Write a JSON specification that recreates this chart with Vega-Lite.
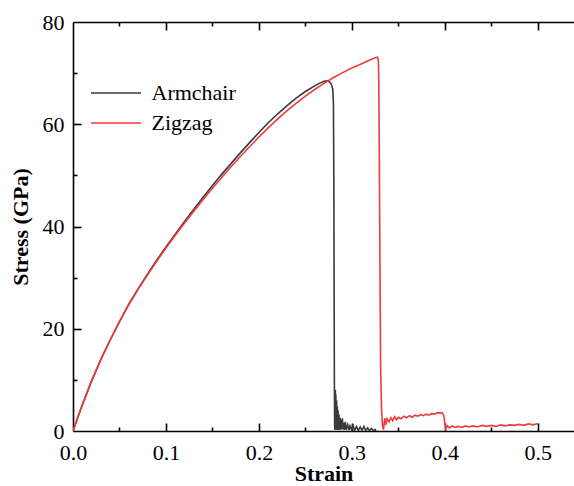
{
  "$schema": "https://vega.github.io/schema/vega-lite/v6.json",
  "width": 501,
  "height": 409,
  "autosize": {"type": "none"},
  "padding": {"left": 73, "top": 22, "right": 0, "bottom": 55},
  "config": {"font": "Liberation Serif", "view": {"stroke": null}, "axis": {"domainColor": "black", "tickColor": "black", "domainWidth": 1.6, "tickWidth": 1.6, "labelColor": "black", "titleColor": "black", "labelFont": "Liberation Serif", "titleFont": "Liberation Serif", "labelFontSize": 22, "titleFontSize": 22, "grid": false}},
  "datasets": {
    "curves": [
      {"s": "Armchair", "strain": 0, "stress": 0},
      {"s": "Armchair", "strain": 0.005, "stress": 2.6},
      {"s": "Armchair", "strain": 0.01, "stress": 5.1},
      {"s": "Armchair", "strain": 0.02, "stress": 9.8},
      {"s": "Armchair", "strain": 0.03, "stress": 14.0},
      {"s": "Armchair", "strain": 0.04, "stress": 17.8},
      {"s": "Armchair", "strain": 0.05, "stress": 21.4},
      {"s": "Armchair", "strain": 0.06, "stress": 24.8},
      {"s": "Armchair", "strain": 0.07, "stress": 27.8},
      {"s": "Armchair", "strain": 0.08, "stress": 30.6},
      {"s": "Armchair", "strain": 0.09, "stress": 33.4},
      {"s": "Armchair", "strain": 0.10, "stress": 36.0},
      {"s": "Armchair", "strain": 0.11, "stress": 38.5},
      {"s": "Armchair", "strain": 0.12, "stress": 41.0},
      {"s": "Armchair", "strain": 0.13, "stress": 43.4},
      {"s": "Armchair", "strain": 0.14, "stress": 45.7},
      {"s": "Armchair", "strain": 0.15, "stress": 48.0},
      {"s": "Armchair", "strain": 0.16, "stress": 50.2},
      {"s": "Armchair", "strain": 0.17, "stress": 52.3},
      {"s": "Armchair", "strain": 0.18, "stress": 54.4},
      {"s": "Armchair", "strain": 0.19, "stress": 56.4},
      {"s": "Armchair", "strain": 0.20, "stress": 58.4},
      {"s": "Armchair", "strain": 0.21, "stress": 60.3},
      {"s": "Armchair", "strain": 0.22, "stress": 62.0},
      {"s": "Armchair", "strain": 0.23, "stress": 63.6},
      {"s": "Armchair", "strain": 0.24, "stress": 65.1},
      {"s": "Armchair", "strain": 0.25, "stress": 66.4},
      {"s": "Armchair", "strain": 0.26, "stress": 67.5},
      {"s": "Armchair", "strain": 0.265, "stress": 68.0},
      {"s": "Armchair", "strain": 0.27, "stress": 68.4},
      {"s": "Armchair", "strain": 0.273, "stress": 68.5},
      {"s": "Armchair", "strain": 0.276, "stress": 68.3},
      {"s": "Armchair", "strain": 0.278, "stress": 67.8},
      {"s": "Armchair", "strain": 0.2795, "stress": 66.8},
      {"s": "Armchair", "strain": 0.2802, "stress": 64.0},
      {"s": "Armchair", "strain": 0.2806, "stress": 50.0},
      {"s": "Armchair", "strain": 0.2809, "stress": 30.0},
      {"s": "Armchair", "strain": 0.2812, "stress": 10.0},
      {"s": "Armchair", "strain": 0.2815, "stress": 1.0},
      {"s": "Armchair", "strain": 0.2818, "stress": 0.2},
      {"s": "Armchair", "strain": 0.2822, "stress": 8.0},
      {"s": "Armchair", "strain": 0.2825, "stress": 0.5},
      {"s": "Armchair", "strain": 0.2828, "stress": 7.2},
      {"s": "Armchair", "strain": 0.2832, "stress": 0.3},
      {"s": "Armchair", "strain": 0.2836, "stress": 6.0},
      {"s": "Armchair", "strain": 0.284, "stress": 0.2},
      {"s": "Armchair", "strain": 0.2844, "stress": 4.8},
      {"s": "Armchair", "strain": 0.2848, "stress": 0.3},
      {"s": "Armchair", "strain": 0.2852, "stress": 4.0},
      {"s": "Armchair", "strain": 0.2857, "stress": 0.2},
      {"s": "Armchair", "strain": 0.2862, "stress": 3.2},
      {"s": "Armchair", "strain": 0.2868, "stress": 0.3},
      {"s": "Armchair", "strain": 0.2874, "stress": 2.6},
      {"s": "Armchair", "strain": 0.288, "stress": 0.2},
      {"s": "Armchair", "strain": 0.2886, "stress": 2.2},
      {"s": "Armchair", "strain": 0.2892, "stress": 0.4},
      {"s": "Armchair", "strain": 0.2898, "stress": 2.5},
      {"s": "Armchair", "strain": 0.2905, "stress": 0.3},
      {"s": "Armchair", "strain": 0.2912, "stress": 1.6},
      {"s": "Armchair", "strain": 0.292, "stress": 0.2},
      {"s": "Armchair", "strain": 0.293, "stress": 1.8},
      {"s": "Armchair", "strain": 0.294, "stress": 0.2},
      {"s": "Armchair", "strain": 0.2955, "stress": 1.2},
      {"s": "Armchair", "strain": 0.297, "stress": 0.2},
      {"s": "Armchair", "strain": 0.298, "stress": 1.0},
      {"s": "Armchair", "strain": 0.300, "stress": 0.1},
      {"s": "Armchair", "strain": 0.301, "stress": 1.3},
      {"s": "Armchair", "strain": 0.303, "stress": 0.1},
      {"s": "Armchair", "strain": 0.305, "stress": 0.9},
      {"s": "Armchair", "strain": 0.307, "stress": 0.1},
      {"s": "Armchair", "strain": 0.309, "stress": 0.8},
      {"s": "Armchair", "strain": 0.311, "stress": 0.1},
      {"s": "Armchair", "strain": 0.313, "stress": 0.9},
      {"s": "Armchair", "strain": 0.315, "stress": 0.1},
      {"s": "Armchair", "strain": 0.317, "stress": 0.6},
      {"s": "Armchair", "strain": 0.319, "stress": 0.1},
      {"s": "Armchair", "strain": 0.321, "stress": 0.5},
      {"s": "Armchair", "strain": 0.323, "stress": 0.1},
      {"s": "Armchair", "strain": 0.325, "stress": 0.3},
      {"s": "Armchair", "strain": 0.326, "stress": 0.0},
      {"s": "Zigzag", "strain": 0, "stress": 0},
      {"s": "Zigzag", "strain": 0.005, "stress": 2.6},
      {"s": "Zigzag", "strain": 0.01, "stress": 5.1},
      {"s": "Zigzag", "strain": 0.02, "stress": 9.8},
      {"s": "Zigzag", "strain": 0.03, "stress": 14.0},
      {"s": "Zigzag", "strain": 0.04, "stress": 17.8},
      {"s": "Zigzag", "strain": 0.05, "stress": 21.4},
      {"s": "Zigzag", "strain": 0.06, "stress": 24.7},
      {"s": "Zigzag", "strain": 0.07, "stress": 27.7},
      {"s": "Zigzag", "strain": 0.08, "stress": 30.5},
      {"s": "Zigzag", "strain": 0.09, "stress": 33.2},
      {"s": "Zigzag", "strain": 0.10, "stress": 35.8},
      {"s": "Zigzag", "strain": 0.11, "stress": 38.3},
      {"s": "Zigzag", "strain": 0.12, "stress": 40.7},
      {"s": "Zigzag", "strain": 0.13, "stress": 43.0},
      {"s": "Zigzag", "strain": 0.14, "stress": 45.3},
      {"s": "Zigzag", "strain": 0.15, "stress": 47.5},
      {"s": "Zigzag", "strain": 0.16, "stress": 49.6},
      {"s": "Zigzag", "strain": 0.17, "stress": 51.7},
      {"s": "Zigzag", "strain": 0.18, "stress": 53.7},
      {"s": "Zigzag", "strain": 0.19, "stress": 55.6},
      {"s": "Zigzag", "strain": 0.20, "stress": 57.5},
      {"s": "Zigzag", "strain": 0.21, "stress": 59.3},
      {"s": "Zigzag", "strain": 0.22, "stress": 61.0},
      {"s": "Zigzag", "strain": 0.23, "stress": 62.6},
      {"s": "Zigzag", "strain": 0.24, "stress": 64.1},
      {"s": "Zigzag", "strain": 0.25, "stress": 65.5},
      {"s": "Zigzag", "strain": 0.26, "stress": 66.8},
      {"s": "Zigzag", "strain": 0.27, "stress": 68.0},
      {"s": "Zigzag", "strain": 0.28, "stress": 69.1},
      {"s": "Zigzag", "strain": 0.29, "stress": 70.1},
      {"s": "Zigzag", "strain": 0.30, "stress": 71.0},
      {"s": "Zigzag", "strain": 0.31, "stress": 71.8},
      {"s": "Zigzag", "strain": 0.32, "stress": 72.6},
      {"s": "Zigzag", "strain": 0.325, "stress": 73.0},
      {"s": "Zigzag", "strain": 0.3275, "stress": 73.1},
      {"s": "Zigzag", "strain": 0.3285, "stress": 72.5},
      {"s": "Zigzag", "strain": 0.329, "stress": 68.0},
      {"s": "Zigzag", "strain": 0.3295, "stress": 55.0},
      {"s": "Zigzag", "strain": 0.330, "stress": 40.0},
      {"s": "Zigzag", "strain": 0.3305, "stress": 25.0},
      {"s": "Zigzag", "strain": 0.331, "stress": 12.0},
      {"s": "Zigzag", "strain": 0.332, "stress": 4.0},
      {"s": "Zigzag", "strain": 0.333, "stress": 1.0},
      {"s": "Zigzag", "strain": 0.334, "stress": 0.3},
      {"s": "Zigzag", "strain": 0.3355, "stress": 2.5},
      {"s": "Zigzag", "strain": 0.3365, "stress": 1.2},
      {"s": "Zigzag", "strain": 0.338, "stress": 2.4},
      {"s": "Zigzag", "strain": 0.340, "stress": 1.8},
      {"s": "Zigzag", "strain": 0.342, "stress": 2.6},
      {"s": "Zigzag", "strain": 0.344, "stress": 2.0},
      {"s": "Zigzag", "strain": 0.346, "stress": 2.8},
      {"s": "Zigzag", "strain": 0.348, "stress": 2.2},
      {"s": "Zigzag", "strain": 0.350, "stress": 2.7},
      {"s": "Zigzag", "strain": 0.353, "stress": 2.4},
      {"s": "Zigzag", "strain": 0.356, "stress": 2.9},
      {"s": "Zigzag", "strain": 0.359, "stress": 2.6},
      {"s": "Zigzag", "strain": 0.362, "stress": 3.0},
      {"s": "Zigzag", "strain": 0.365, "stress": 2.7},
      {"s": "Zigzag", "strain": 0.368, "stress": 3.1},
      {"s": "Zigzag", "strain": 0.371, "stress": 2.9},
      {"s": "Zigzag", "strain": 0.374, "stress": 3.2},
      {"s": "Zigzag", "strain": 0.377, "stress": 3.0},
      {"s": "Zigzag", "strain": 0.380, "stress": 3.3},
      {"s": "Zigzag", "strain": 0.383, "stress": 3.1},
      {"s": "Zigzag", "strain": 0.386, "stress": 3.4},
      {"s": "Zigzag", "strain": 0.389, "stress": 3.3},
      {"s": "Zigzag", "strain": 0.392, "stress": 3.6},
      {"s": "Zigzag", "strain": 0.395, "stress": 3.5},
      {"s": "Zigzag", "strain": 0.397, "stress": 3.6},
      {"s": "Zigzag", "strain": 0.399, "stress": 3.0},
      {"s": "Zigzag", "strain": 0.400, "stress": 1.5},
      {"s": "Zigzag", "strain": 0.401, "stress": 0.4},
      {"s": "Zigzag", "strain": 0.403, "stress": 1.0},
      {"s": "Zigzag", "strain": 0.405, "stress": 0.6},
      {"s": "Zigzag", "strain": 0.408, "stress": 1.0},
      {"s": "Zigzag", "strain": 0.411, "stress": 0.7},
      {"s": "Zigzag", "strain": 0.414, "stress": 0.9},
      {"s": "Zigzag", "strain": 0.418, "stress": 0.7},
      {"s": "Zigzag", "strain": 0.422, "stress": 1.0},
      {"s": "Zigzag", "strain": 0.426, "stress": 0.8},
      {"s": "Zigzag", "strain": 0.430, "stress": 1.0},
      {"s": "Zigzag", "strain": 0.435, "stress": 0.8},
      {"s": "Zigzag", "strain": 0.440, "stress": 1.1},
      {"s": "Zigzag", "strain": 0.445, "stress": 0.9},
      {"s": "Zigzag", "strain": 0.450, "stress": 1.1},
      {"s": "Zigzag", "strain": 0.455, "stress": 0.9},
      {"s": "Zigzag", "strain": 0.460, "stress": 1.2},
      {"s": "Zigzag", "strain": 0.465, "stress": 1.0},
      {"s": "Zigzag", "strain": 0.470, "stress": 1.2},
      {"s": "Zigzag", "strain": 0.475, "stress": 1.1},
      {"s": "Zigzag", "strain": 0.480, "stress": 1.3},
      {"s": "Zigzag", "strain": 0.485, "stress": 1.1},
      {"s": "Zigzag", "strain": 0.490, "stress": 1.4},
      {"s": "Zigzag", "strain": 0.495, "stress": 1.2},
      {"s": "Zigzag", "strain": 0.499, "stress": 1.4},
      {"s": "Zigzag", "strain": 0.500, "stress": 1.3}
    ]
  },
  "data": {"name": "curves"},
  "resolve": {"axis": {"x": "independent", "y": "independent"}},
  "layer": [
    {
      "mark": {"type": "line", "strokeWidth": 1.6, "clip": true},
      "encoding": {
        "x": {"field": "strain", "type": "quantitative",
          "scale": {"domain": [0, 0.539], "nice": false, "zero": false},
          "axis": {"orient": "bottom", "title": "Strain", "titleFontWeight": "bold", "titlePadding": 0,
            "values": [0, 0.1, 0.2, 0.3, 0.4, 0.5], "format": ".1f", "ticks": false,
            "labelFlush": false, "labelOverlap": false, "labelPadding": 11}},
        "y": {"field": "stress", "type": "quantitative",
          "scale": {"domain": [0, 80], "nice": false},
          "axis": {"orient": "left", "title": "Stress (GPa)", "titleFontWeight": "bold", "titlePadding": 10,
            "values": [0, 20, 40, 60, 80], "ticks": false,
            "labelFlush": false, "labelOverlap": false, "labelPadding": 9}},
        "color": {"field": "s", "type": "nominal",
          "scale": {"domain": ["Armchair", "Zigzag"], "range": ["#3a3a3a", "#f03a3a"]},
          "legend": {"orient": "none", "legendX": 29.5, "legendY": 57.5, "title": null, "symbolType": "M-2,0H2", "symbolSize": 625, "symbolStrokeWidth": 1.6, "symbolFillColor": "transparent", "labelFontSize": 22, "labelFont": "Liberation Serif", "labelColor": "black", "labelOffset": 22, "rowPadding": 5, "padding": 0}}
      }
    },
    {
      "mark": {"type": "line", "opacity": 0},
      "encoding": {
        "x": {"field": "strain", "type": "quantitative",
          "axis": {"orient": "bottom", "title": null, "labels": false, "domain": false, "offset": -8, "tickSize": 8,
            "values": [0.1, 0.2, 0.3, 0.4, 0.5]}},
        "y": {"field": "stress", "type": "quantitative",
          "axis": {"orient": "left", "title": null, "labels": false, "domain": false, "offset": -8, "tickSize": 8,
            "values": [20, 40, 60]}}
      }
    },
    {
      "mark": {"type": "line", "opacity": 0},
      "encoding": {
        "x": {"field": "strain", "type": "quantitative",
          "axis": {"orient": "bottom", "title": null, "labels": false, "domain": false, "offset": -4, "tickSize": 4,
            "values": [0.05, 0.15, 0.25, 0.35, 0.45]}},
        "y": {"field": "stress", "type": "quantitative",
          "axis": {"orient": "left", "title": null, "labels": false, "domain": false, "offset": -4, "tickSize": 4,
            "values": [10, 30, 50, 70]}}
      }
    },
    {
      "mark": {"type": "line", "opacity": 0},
      "encoding": {
        "x": {"field": "strain", "type": "quantitative",
          "axis": {"orient": "top", "title": null, "labels": false, "ticks": false, "domain": true}},
        "y": {"field": "stress", "type": "quantitative", "axis": null}
      }
    },
    {
      "mark": {"type": "line", "opacity": 0},
      "encoding": {
        "x": {"field": "strain", "type": "quantitative",
          "axis": {"orient": "top", "title": null, "labels": false, "domain": false, "offset": -8, "tickSize": 8,
            "values": [0.1, 0.2, 0.3, 0.4, 0.5]}},
        "y": {"field": "stress", "type": "quantitative", "axis": null}
      }
    },
    {
      "mark": {"type": "line", "opacity": 0},
      "encoding": {
        "x": {"field": "strain", "type": "quantitative",
          "axis": {"orient": "top", "title": null, "labels": false, "domain": false, "offset": -4, "tickSize": 4,
            "values": [0.05, 0.15, 0.25, 0.35, 0.45]}},
        "y": {"field": "stress", "type": "quantitative", "axis": null}
      }
    }
  ]
}
